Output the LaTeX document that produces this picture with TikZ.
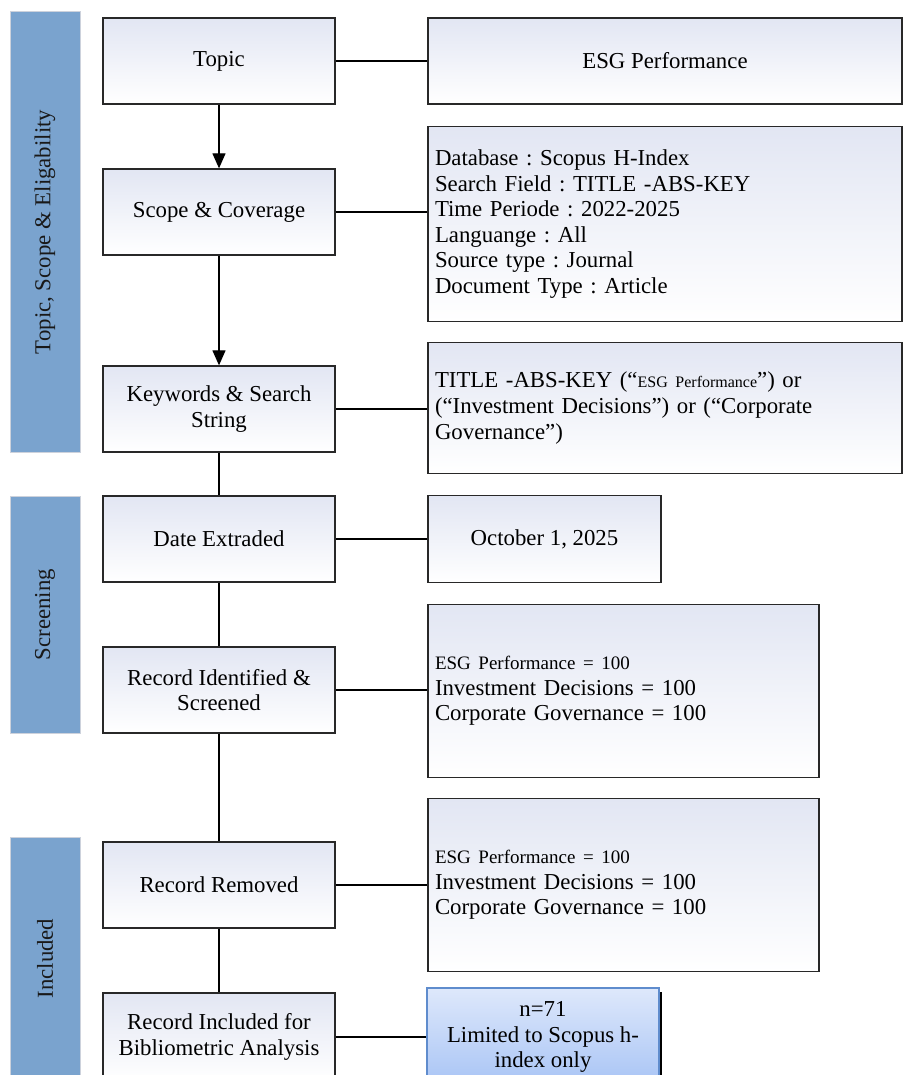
\documentclass[tikz,border=0pt]{standalone}
\usepackage{fontspec}
\setmainfont{Liberation Serif}
\usetikzlibrary{arrows.meta}
\definecolor{bandfill}{RGB}{122,163,206}
\definecolor{bandedge}{RGB}{205,210,220}
\definecolor{boxtop}{RGB}{226,230,243}
\definecolor{boxedge}{RGB}{40,40,40}
\definecolor{bluetop}{RGB}{222,232,251}
\definecolor{bluebot}{RGB}{168,196,245}
\definecolor{blueedge}{RGB}{95,140,205}
\newcommand{\mainsize}{\fontsize{22.8}{25.6}\selectfont}
\frenchspacing
\begin{document}
\frenchspacing
\begin{tikzpicture}[x=1pt,y=-1pt,
  band/.style={draw=bandedge,line width=1pt,fill=bandfill,minimum width=70pt,inner sep=0pt},
  bandtext/.style={rotate=90,text=black!90,font=\mainsize},
  stepbox/.style={draw=boxedge,line width=1.3pt,top color=boxtop,bottom color=white,minimum width=232pt,inner sep=2pt,align=center,font=\mainsize},
  infobox/.style={draw=boxedge,line width=1.3pt,top color=boxtop,bottom color=white,inner sep=7pt,align=left,font=\mainsize},
  bluebox/.style={draw=blueedge,line width=1.4pt,top color=bluetop,bottom color=bluebot,minimum width=232pt,minimum height=98pt,align=center,font=\mainsize,inner sep=4pt},
  conn/.style={draw=black,line width=1.2pt},
  arrowline/.style={conn,-{Triangle[length=15pt,width=13pt]}}
]
\useasboundingbox (0,0) rectangle (903,1075);
\clip (0,0) rectangle (903,1075);
\fill[white] (0,0) rectangle (903,1075);
% bands
\node[band,minimum height=440pt] (b1) at (45,232) {};
\node[bandtext] (b1t) at (b1.center) {Topic, Scope \& Eligability};
\node[band,minimum height=237pt] (b2) at (45,614.5) {};
\node[bandtext] (b2t) at (b2.center) {Screening};
\node[band,minimum height=243pt] (b3) at (45,958.5) {};
\node[bandtext] (b3t) at (b3.center) {Included};
% left boxes
\node[stepbox,minimum height=86pt] (topic) at (219,61) {Topic};
\node[stepbox,minimum height=86pt] (scope) at (219,212) {Scope \& Coverage};
\node[stepbox,minimum height=86pt] (kw) at (219,409) {Keywords \& Search\\String};
\node[stepbox,minimum height=86pt] (date) at (219,539) {Date Extraded};
\node[stepbox,minimum height=86pt] (recid) at (219,690) {Record Identified \&\\Screened};
\node[stepbox,minimum height=86pt] (recrm) at (219,885) {Record Removed};
\node[stepbox,minimum height=88pt] (recin) at (219,1037) {Record Included for\\Bibliometric Analysis};
% right boxes
\node[infobox,minimum width=474pt,minimum height=86pt,align=center] (esg) at (665,61) {ESG Performance};
\node[infobox,minimum width=474pt,minimum height=195pt,text width=460pt] (sdet) at (665,224)
 {Database : Scopus H-Index\\Search Field : TITLE -ABS-KEY\\Time Periode : 2022-2025\\Languange : All\\Source type : Journal\\Document Type : Article};
\node[infobox,minimum width=474pt,minimum height=131pt,text width=460pt] (kdet) at (665,408)
 {TITLE -ABS-KEY (“{\fontsize{16}{25.6}\selectfont ESG Performance}”) or\\(“Investment Decisions”) or (“Corporate\\Governance”)};
\node[infobox,minimum width=233pt,minimum height=87pt,align=center] (oct) at (544.5,539) {October 1, 2025};
\node[infobox,minimum width=391pt,minimum height=173pt,text width=377pt] (r1) at (623.5,691)
 {{\fontsize{19}{25.6}\selectfont ESG Performance = 100}\\Investment Decisions = 100\\Corporate Governance = 100};
\node[infobox,minimum width=391pt,minimum height=173pt,text width=377pt] (r2) at (623.5,885)
 {{\fontsize{19}{25.6}\selectfont ESG Performance = 100}\\Investment Decisions = 100\\Corporate Governance = 100};
\node[draw=black,line width=1.2pt,fill=white,minimum width=231pt,minimum height=98pt] (shadowbox) at (545.5,1042) {};
\node[bluebox] (blue) at (543,1037) {n=71\\Limited to Scopus h-\\index only};
% connectors
\draw[arrowline] (topic) -- (scope);
\draw[arrowline] (scope) -- (kw);
\draw[conn] (kw) -- (date);
\draw[conn] (date) -- (recid);
\draw[conn] (recid) -- (recrm);
\draw[conn] (recrm) -- (recin);
\draw[conn] (topic.east) -- (topic.east -| esg.west);
\draw[conn] (scope.east) -- (scope.east -| sdet.west);
\draw[conn] (kw.east) -- (kw.east -| kdet.west);
\draw[conn] (date.east) -- (date.east -| oct.west);
\draw[conn] (recid.east) -- (recid.east -| r1.west);
\draw[conn] (recrm.east) -- (recrm.east -| r2.west);
\draw[conn] (recin.east) -- (recin.east -| blue.west);
\end{tikzpicture}
\end{document}
